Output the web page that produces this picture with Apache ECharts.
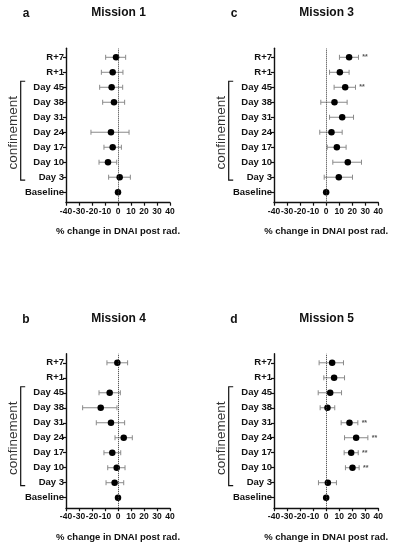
<!DOCTYPE html>
<html>
<head>
<meta charset="utf-8">
<script src="https://cdn.jsdelivr.net/npm/echarts@6/dist/echarts.min.js"></script>
<style>html,body{margin:0;padding:0;background:#fff}#c{width:395px;height:550px}</style>
</head>
<body>
<div id="c"></div>
<script>
// Row labels, bottom (index 0) to top
const categories = ['Baseline', 'Day 3', 'Day 10', 'Day 17', 'Day 24', 'Day 31', 'Day 38', 'Day 45', 'R+1', 'R+7'];
const xTicks = [-40, -30, -20, -10, 0, 10, 20, 30, 40];

// Mission 1
const m1Mean = [0, 1.3, -7.7, -4.1, -5.4, null, -3.1, -4.9, -4.1, -1.5];
const m1Lo   = [null, -7.2, -14.6, -10.8, -20.8, null, -11.8, -14.1, -12.8, -9.5];
const m1Hi   = [null, 9.5, -1.0, 2.6, 8.5, null, 5.1, 3.6, 3.8, 5.9];
const m1Sig  = ['', '', '', '', '', '', '', '', '', ''];
// Mission 3
const m3Mean = [0, 9.7, 16.6, 8.2, 4.1, 12.3, 6.4, 14.6, 10.5, 17.6];
const m3Lo   = [null, -1.5, 5.1, 0.8, -4.9, 2.6, -4.1, 6.1, 2.6, 10.2];
const m3Hi   = [null, 20.2, 27.1, 15.3, 12.3, 21.0, 16.1, 22.5, 17.6, 24.8];
const m3Sig  = ['', '', '', '', '', '', '', '**', '', '**'];
// Mission 4
const m4Mean = [0, -2.6, -1.0, -4.4, 4.4, -5.4, -13.3, -6.4, null, -0.5];
const m4Lo   = [null, -9.2, -7.9, -10.8, -2.3, -16.7, -27.2, -14.6, null, -8.5];
const m4Hi   = [null, 4.4, 5.4, 2.1, 11.0, 5.1, -0.8, 1.8, null, 7.4];
const m4Sig  = ['', '', '', '', '', '', '', '', '', ''];
// Mission 5
const m5Mean = [0, 1.3, 20.2, 19.2, 23.0, 17.9, 1.0, 3.1, 6.1, 4.6];
const m5Lo   = [null, -5.9, 14.8, 13.8, 14.1, 11.5, -4.6, -6.1, -1.8, -5.4];
const m5Hi   = [null, 7.9, 25.3, 24.6, 32.0, 24.3, 6.6, 11.8, 14.1, 13.3];
const m5Sig  = ['', '', '**', '**', '**', '**', '', '', '', ''];

const panels = [
  { title: 'Mission 1', letter: 'a', mean: m1Mean, lo: m1Lo, hi: m1Hi, sig: m1Sig },
  { title: 'Mission 3', letter: 'c', mean: m3Mean, lo: m3Lo, hi: m3Hi, sig: m3Sig },
  { title: 'Mission 4', letter: 'b', mean: m4Mean, lo: m4Lo, hi: m4Hi, sig: m4Sig },
  { title: 'Mission 5', letter: 'd', mean: m5Mean, lo: m5Lo, hi: m5Hi, sig: m5Sig }
];

const FONT = "'Liberation Sans', Arial, Helvetica, sans-serif";
const layout = [
  { left: 66, top: 48.3, width: 104 },
  { left: 274, top: 48.3, width: 104.3 },
  { left: 66, top: 353.8, width: 104 },
  { left: 274, top: 353.8, width: 104.3 }
];
const GH = 154.4;
const YMIN = -0.7, YMAX = 9.6;

const chart = echarts.init(document.getElementById('c'), null, { renderer: 'canvas' });

const grid = [], xAxis = [], yAxis = [], series = [], title = [];
panels.forEach((p, k) => {
  const L = layout[k];
  grid.push({ left: L.left, top: L.top, width: L.width, height: GH, containLabel: false });
  xAxis.push({
    type: 'value', gridIndex: k, min: -40, max: 40, interval: 10,
    name: '% change in DNAI post rad.', nameLocation: 'middle', nameGap: 24,
    nameTextStyle: { fontFamily: FONT, fontWeight: 'bold', fontSize: 9.5, color: '#111' },
    axisLine: { show: true, onZero: false, lineStyle: { color: '#111', width: 1.4 } },
    axisTick: { show: true, length: 3, lineStyle: { color: '#111', width: 1.2 } },
    axisLabel: { fontFamily: FONT, fontWeight: 'bold', fontSize: 8.5, color: '#111', margin: 4, hideOverlap: false,
      customValues: xTicks },
    splitLine: { show: false }
  });
  yAxis.push({
    type: 'value', gridIndex: k, min: YMIN, max: YMAX,
    axisLine: { show: true, onZero: false, lineStyle: { color: '#111', width: 1.4 } },
    axisTick: { show: true, length: 3, customValues: categories.map((c, i) => i), lineStyle: { color: '#111', width: 1.2 } },
    axisLabel: { show: true, customValues: categories.map((c, i) => i), formatter: v => categories[Math.round(v)] || '',
      fontFamily: FONT, fontWeight: 'bold', fontSize: 9.5, color: '#111', margin: 2 },
    splitLine: { show: false }
  });
  title.push({
    text: p.title, left: L.left + L.width / 2 + 0.5, top: L.top - 41.3, textAlign: 'center', padding: 0,
    textStyle: { fontFamily: FONT, fontWeight: 'bold', fontSize: 12, color: '#111' }
  });

  const barData = [];
  const dotData = [];
  const sigData = [];
  categories.forEach((c, i) => {
    if (p.lo[i] !== null && p.hi[i] !== null) barData.push([p.lo[i], p.hi[i], i]);
    if (p.mean[i] !== null) dotData.push([p.mean[i], i]);
    if (p.sig[i]) sigData.push([p.hi[i] + 5, i, p.sig[i]]);
  });

  series.push({
    type: 'custom', xAxisIndex: k, yAxisIndex: k, silent: true,
    encode: { x: [0, 1], y: 2 },
    data: barData,
    renderItem: function (params, api) {
      const a = api.coord([api.value(0), api.value(2)]);
      const b = api.coord([api.value(1), api.value(2)]);
      const h = 2.5;
      const st = { stroke: '#8a8a8a', lineWidth: 1 };
      return {
        type: 'group', children: [
          { type: 'line', shape: { x1: a[0], y1: a[1], x2: b[0], y2: b[1] }, style: st },
          { type: 'line', shape: { x1: a[0], y1: a[1] - h, x2: a[0], y2: a[1] + h }, style: st },
          { type: 'line', shape: { x1: b[0], y1: b[1] - h, x2: b[0], y2: b[1] + h }, style: st }
        ]
      };
    },
    markLine: {
      silent: true, symbol: ['none', 'none'], label: { show: false },
      lineStyle: { type: 'dotted', color: '#333', width: 1 },
      data: [{ xAxis: 0 }]
    },
    z: 2
  });
  series.push({
    type: 'scatter', xAxisIndex: k, yAxisIndex: k, silent: true,
    symbol: 'circle', symbolSize: 6.5,
    itemStyle: { color: '#000', opacity: 1 },
    data: dotData, z: 4
  });
  series.push({
    type: 'custom', xAxisIndex: k, yAxisIndex: k, silent: true,
    encode: { x: 0, y: 1 },
    data: sigData,
    renderItem: function (params, api) {
      const pt = api.coord([api.value(0), api.value(1)]);
      return {
        type: 'text', x: pt[0], y: pt[1],
        style: { text: sigData[params.dataIndex][2], fontFamily: FONT, fontSize: 7, fontWeight: 'bold',
          fill: '#555', align: 'center', verticalAlign: 'middle' }
      };
    },
    z: 3
  });
});

chart.setOption({
  animation: false,
  backgroundColor: '#fff',
  title: title,
  grid: grid, xAxis: xAxis, yAxis: yAxis, series: series
});

// Decorations: panel letters, confinement brackets
const graphics = [];
panels.forEach((p, k) => {
  const L = layout[k];
  graphics.push({
    type: 'text', x: L.left - 40, y: L.top - 34.3,
    style: { text: p.letter, fontFamily: FONT, fontWeight: 'bold', fontSize: 12, fill: '#111',
      align: 'center', verticalAlign: 'middle' }
  });
  const yTop = chart.convertToPixel({ yAxisIndex: k }, categories.indexOf('Day 45')) - 6;
  const yBot = chart.convertToPixel({ yAxisIndex: k }, categories.indexOf('Day 3')) + 3;
  const bx = L.left - 45.3;
  graphics.push({
    type: 'polyline',
    shape: { points: [[bx + 4.5, yTop], [bx, yTop], [bx, yBot], [bx + 4.5, yBot]] },
    style: { stroke: '#111', lineWidth: 1.2, fill: null }
  });
  graphics.push({
    type: 'text', x: bx - 7.7, y: (yTop + yBot) / 2 + 2, rotation: Math.PI / 2,
    style: { text: 'confinement', fontFamily: FONT, fontSize: 13.5, fill: '#333',
      align: 'center', verticalAlign: 'middle' }
  });
});
chart.setOption({ graphic: graphics });
</script>
</body>
</html>
